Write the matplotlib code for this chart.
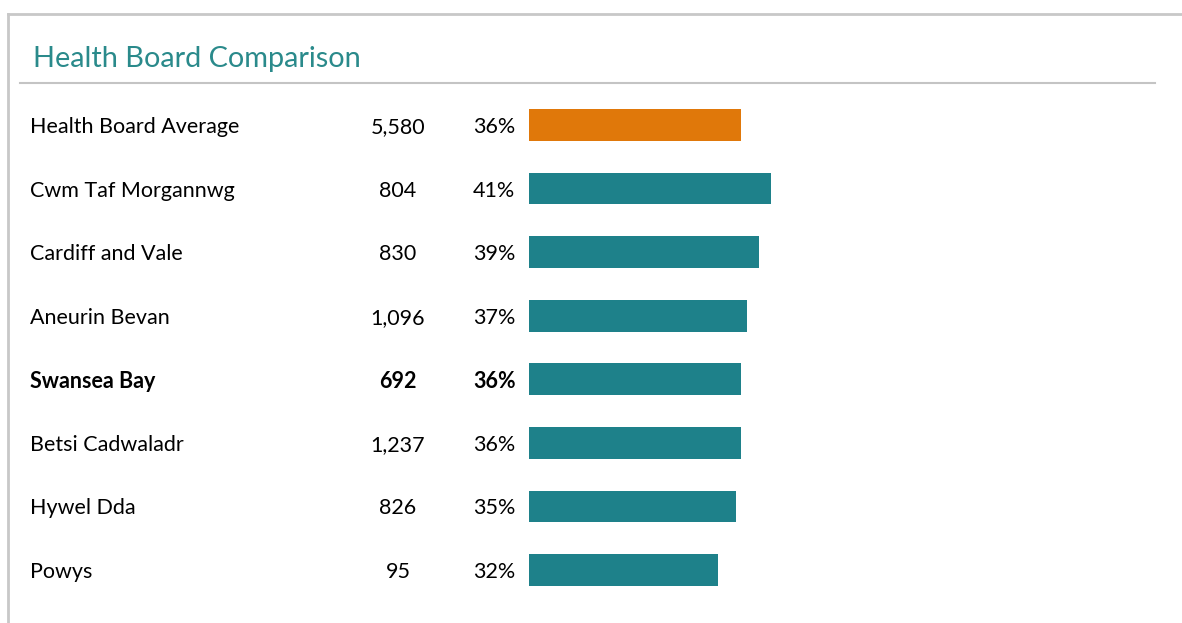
import matplotlib
matplotlib.use("Agg")
import matplotlib.pyplot as plt
from matplotlib.lines import Line2D
from matplotlib.transforms import blended_transform_factory

boards = ["Health Board Average", "Cwm Taf Morgannwg", "Cardiff and Vale", "Aneurin Bevan",
          "Swansea Bay", "Betsi Cadwaladr", "Hywel Dda", "Powys"]
counts = ["5,580", "804", "830", "1,096", "692", "1,237", "826", "95"]
pcts = [36, 41, 39, 37, 36, 36, 35, 32]
highlight = "Swansea Bay"
average = "Health Board Average"

TEAL = "#1E818A"
ORANGE = "#E0780A"
TITLE = "#2A8A8B"

plt.rcParams['font.family'] = ['Lato', 'DejaVu Sans']

W, H = 1182, 623
fig = plt.figure(figsize=(W / 100, H / 100), dpi=100)
fig.patch.set_facecolor("white")

def fx(px):
    return px / W

def fy(py):
    return 1 - py / H

# frame lines
fig.add_artist(Line2D([fx(8), fx(1182)], [fy(14), fy(14)], color="#C8C8C8", lw=2))
fig.add_artist(Line2D([fx(8), fx(8)], [fy(14), fy(623)], color="#C8C8C8", lw=2))
fig.add_artist(Line2D([fx(20), fx(1155)], [fy(83), fy(83)], color="#C4C4C4", lw=1.5))

fig.text(fx(33), fy(56), "Health Board Comparison", color=TITLE, fontsize=20.8,
         va="center_baseline", ha="left")

# bar axes
row0, row_last = 125, 570
step = (row_last - row0) / (len(boards) - 1)
top_px = row0 - step / 2
bot_px = row_last + step / 2
left_px, right_px = 529, 1155
px_per_pct = 5.9
ax = fig.add_axes([fx(left_px), fy(bot_px), fx(right_px - left_px), (bot_px - top_px) / H])
ax.set_xlim(0, (right_px - left_px) / px_per_pct)
ax.set_ylim(len(boards) - 0.5, -0.5)
ax.axis("off")

ypos = list(range(len(boards)))
colors = [ORANGE if b == average else TEAL for b in boards]
ax.barh(ypos, pcts, height=0.5, color=colors, left=0)

tr = blended_transform_factory(fig.transFigure, ax.transData)
FS = 15.5
for i, (b, c, p) in enumerate(zip(boards, counts, pcts)):
    weight = "bold" if b == highlight else "normal"
    ax.text(fx(30), i, b, transform=tr, ha="left", va="center_baseline", fontsize=FS,
            fontweight=weight, color="black")
    ax.text(fx(398), i, c, transform=tr, ha="center", va="center_baseline", fontsize=FS,
            fontweight=weight, color="black")
    ax.text(fx(473), i, f"{p}%", transform=tr, ha="left", va="center_baseline", fontsize=FS,
            fontweight=weight, color="black")

fig.savefig("out.png", dpi=100, facecolor="white")
